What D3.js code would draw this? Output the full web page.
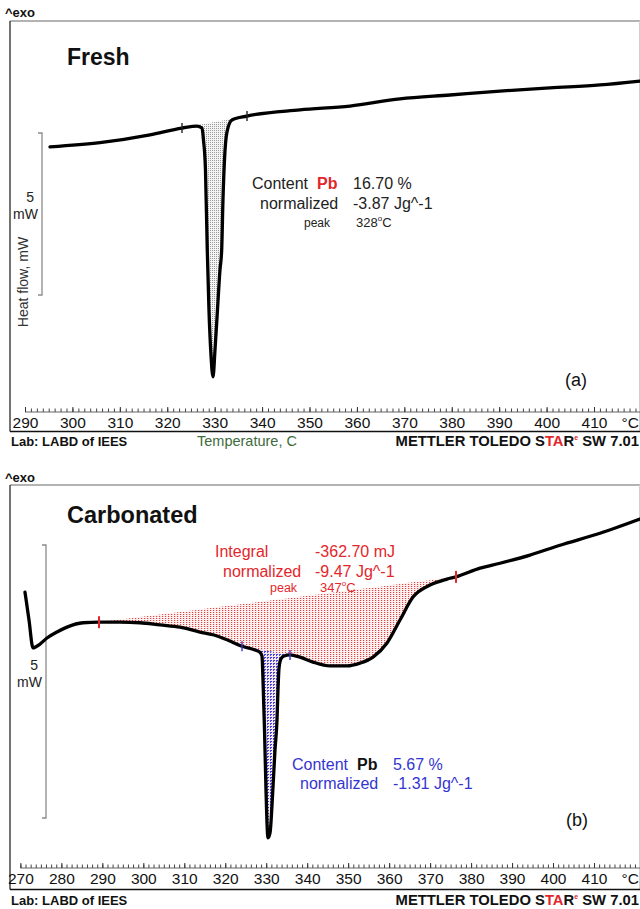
<!DOCTYPE html>
<html><head><meta charset="utf-8">
<script src="https://cdn.jsdelivr.net/npm/d3@7"></script>
<style>
html,body{margin:0;padding:0;background:#fff;}
svg{display:block;font-family:Arial,"Liberation Sans",Helvetica,sans-serif;}
</style></head><body>
<svg id="chart" width="640" height="909"></svg>
<script>
// ---------- DATA ----------
// (a) Fresh: temperature (°C) and heat flow (mW, exo up)
const freshT  = [295.27,305.82,316.36,323.11,326.27,327.33,327.64,328.06,328.44,328.80,329.22,329.65,330.07,330.59,331.12,331.48,331.75,332.07,332.60,333.65,336.82,347.99,358.54,369.08,379.63,390.17,400.72,411.26,419.69];
const freshHF = [-0.52,-0.39,-0.15,0.06,0.12,0.06,-0.31,-1.23,-3.70,-5.56,-6.94,-7.62,-6.79,-5.56,-4.32,-3.70,-2.16,-0.93,-0.06,0.31,0.43,0.62,0.74,0.96,1.08,1.20,1.30,1.39,1.51];
const freshLimits = [323.11, 336.82];

// (b) Carbonated
const carbT  = [271.12,272.10,273.08,274.78,276.49,278.93,281.37,285.28,289.18,294.31,299.19,304.07,308.95,313.83,317.01,320.67,324.09,327.26,328.48,328.97,329.21,329.58,329.94,330.43,330.92,331.65,332.14,332.63,332.87,333.12,333.61,334.34,335.80,338.24,341.42,345.57,349.72,352.89,356.06,359.48,362.65,365.82,369.97,374.12,376.32,382.18,387.06,394.38,401.70,411.46,421.23];
const carbHF = [0.51,0.00,-0.51,-0.44,-0.33,-0.22,-0.13,-0.05,-0.04,-0.04,-0.05,-0.09,-0.13,-0.22,-0.27,-0.37,-0.48,-0.55,-0.59,-0.66,-1.10,-2.01,-3.11,-3.99,-3.90,-3.06,-2.38,-1.83,-1.28,-0.88,-0.71,-0.66,-0.64,-0.68,-0.77,-0.84,-0.84,-0.79,-0.68,-0.42,0.00,0.42,0.64,0.75,0.79,0.95,1.04,1.19,1.37,1.59,1.85];
const carbRedLimits  = [289.18, 376.32];
const carbBlueLimits = [324.09, 335.80];

const topTickLabels = [290,300,310,320,330,340,350,360,370,380,390,400,410];
const botTickLabels = [270,280,290,300,310,320,330,340,350,360,370,380,390,400,410];

const freshNote = [["Content","Pb","16.70 %"],["normalized","","-3.87 Jg^-1"],["peak","","328"]];
const redNote   = [["Integral","-362.70 mJ"],["normalized","-9.47 Jg^-1"],["peak","347"]];
const blueNote  = [["Content","Pb","5.67 %"],["normalized","","-1.31 Jg^-1"]];

// ---------- SETUP ----------
const svg = d3.select('#chart');
const defs = svg.append('defs');
function pattern(id,w,h,rects,bg){
  const p = defs.append('pattern').attr('id',id).attr('patternUnits','userSpaceOnUse').attr('width',w).attr('height',h);
  if(bg) p.append('rect').attr('width',w).attr('height',h).attr('fill',bg);
  rects.forEach(r=>p.append('rect').attr('x',r[0]).attr('y',r[1]).attr('width',r[2]).attr('height',r[3]).attr('fill',r[4]));
}
pattern('grey',2,2,[[0,0,1,1,'#9a9a9a']],'#f4f4f4');
pattern('red',3,2,[[0,0,1.2,1,'#e5403e']],'#fdf0f0');
pattern('blue',3,3,[[0,0,2,1,'#3a3ad2'],[0,0,1,2,'#4a4ad8']],'#f6e6ee');

const RED='#e3262b', BLUE='#3535d0';

const topX = d3.scaleLinear().domain([290,410]).range([25,594]);
const topY = d3.scaleLinear().domain([-8.704,3.364]).range([412,21]);
const botX = d3.scaleLinear().domain([270,410]).range([20.4,594]);
const botY = d3.scaleLinear().domain([-4.542,2.473]).range([868,485]);

function txt(x,y,s,size,opts={}){
  const t = svg.append('text').attr('x',x).attr('y',y).attr('font-size',size).text(s)
    .attr('fill',opts.fill||'#111').attr('font-weight',opts.bold?'bold':'normal')
    .attr('text-anchor',opts.anchor||'start');
  return t;
}

function frame(top,bottom){
  svg.append('line').attr('x1',10).attr('x2',640).attr('y1',top).attr('y2',top).attr('stroke','#9a9a9a').attr('stroke-width',1.5);
  svg.append('line').attr('x1',10).attr('x2',10).attr('y1',top).attr('y2',bottom).attr('stroke','#444').attr('stroke-width',1.5);
  svg.append('line').attr('x1',639.5).attr('x2',639.5).attr('y1',top).attr('y2',bottom).attr('stroke','#cfcfcf').attr('stroke-width',1);
  svg.append('line').attr('x1',10).attr('x2',640).attr('y1',bottom).attr('y2',bottom).attr('stroke','#111').attr('stroke-width',1.6);
}

function xAxis(xs, yAxis, labels, start){
  const minor = d3.range(start, 420.01, 1.25);
  svg.append('line').attr('x1',xs(start)).attr('x2',640).attr('y1',yAxis).attr('y2',yAxis).attr('stroke','#666').attr('stroke-width',1);
  const g1 = svg.append('g').attr('transform',`translate(0,${yAxis})`)
    .call(d3.axisBottom(xs).tickValues(minor).tickSize(-3.5).tickFormat('').tickSizeOuter(0));
  g1.select('.domain').remove();
  g1.selectAll('line').attr('stroke','#444');
  const g2 = svg.append('g').attr('transform',`translate(0,${yAxis})`)
    .call(d3.axisBottom(xs).tickValues(labels).tickSize(-5).tickPadding(5).tickSizeOuter(0));
  g2.select('.domain').remove();
  g2.selectAll('line').attr('stroke','#333');
  g2.selectAll('text').attr('font-size',15.5).attr('fill','#111').attr('font-family','Arial,"Liberation Sans",sans-serif');
  txt(639,yAxis+16,'°C',15.5,{anchor:'end'});
}

function footer(y, withTemp){
  txt(11,y,'Lab: LABD of IEES',13,{bold:true});
  if(withTemp) txt(197,y,'Temperature, C',14.5,{fill:'#3d6b3d'});
  const t = svg.append('text').attr('x',639).attr('y',y).attr('text-anchor','end').attr('font-size',14.8).attr('font-weight','bold').attr('fill','#111');
  t.append('tspan').text('METTLER TOLEDO S');
  t.append('tspan').attr('fill',RED).text('TA');
  t.append('tspan').text('R');
  t.append('tspan').attr('fill',RED).attr('font-size',7).attr('dy',-6).text('e');
  t.append('tspan').attr('dy',6).text(' SW 7.01');
}

function fillArea(xs,ys,T,HF,lim,fill){
  const idx = T.map((t,i)=>i).filter(i=>T[i]>=lim[0]-1e-6 && T[i]<=lim[1]+1e-6);
  const i0=idx[0], i1=idx[idx.length-1];
  const base = t => HF[i0]+(HF[i1]-HF[i0])*(t-T[i0])/(T[i1]-T[i0]);
  const pts = idx.map(i=>({t:T[i],v:HF[i],b:base(T[i])}));
  svg.append('path').datum(pts)
    .attr('d',d3.area().x(d=>xs(d.t)).y0(d=>ys(d.b)).y1(d=>ys(d.v)).curve(d3.curveMonotoneX))
    .attr('fill',fill);
}
function curve(xs,ys,T,HF){
  svg.append('path').datum(T.map((t,i)=>[t,HF[i]]))
    .attr('d',d3.line().x(d=>xs(d[0])).y(d=>ys(d[1])).curve(d3.curveMonotoneX))
    .attr('fill','none').attr('stroke','#000').attr('stroke-width',3.3)
    .attr('stroke-linejoin','round').attr('stroke-linecap','round');
}
function limitTicks(xs,ys,T,HF,lim,color,h,w){
  lim.forEach(l=>{
    const i = T.findIndex(t=>Math.abs(t-l)<1e-6);
    const x = xs(l), y = ys(HF[i]);
    svg.append('line').attr('x1',x).attr('x2',x).attr('y1',y-h).attr('y2',y+h).attr('stroke',color).attr('stroke-width',w);
  });
}
function scaleBar(x,ys,hfTop,lx5,ly5,lxm,lym){
  const y1=ys(hfTop), y2=ys(hfTop-5);
  svg.append('path').attr('d',`M${x-4},${y1}H${x}V${y2}H${x-4}`).attr('fill','none').attr('stroke','#8a8a8a').attr('stroke-width',1.3);
  txt(lx5,ly5,'5',14,{anchor:'end',fill:'#222'});
  txt(lxm,lym,'mW',14,{anchor:'end',fill:'#222'});
}

// ---------- PANEL (a) ----------
txt(5,17,'^exo',13,{bold:true});
frame(21,431.5);
txt(67,65,'Fresh',23,{bold:true});
scaleBar(42,topY,-0.093,34,202,38,219);
svg.append('text').attr('transform','translate(28,282) rotate(-90)').attr('text-anchor','middle')
  .attr('font-size',14).attr('fill','#333').text('Heat flow, mW');
fillArea(topX,topY,freshT,freshHF,freshLimits,'url(#grey)');
curve(topX,topY,freshT,freshHF);
limitTicks(topX,topY,freshT,freshHF,freshLimits,'#222',5,1.4);
xAxis(topX,412,topTickLabels,290);
footer(446,true);
txt(565,386,'(a)',18,{fill:'#111'});

// annotation (a)
txt(252,189,freshNote[0][0],16,{fill:'#222'});
txt(317,189,freshNote[0][1],16,{bold:true,fill:RED});
txt(353,189,freshNote[0][2],16,{fill:'#222'});
txt(260,209,freshNote[1][0],16,{fill:'#222'});
txt(353,209,freshNote[1][2],16,{fill:'#222'});
txt(304,227,freshNote[2][0],12,{fill:'#222'});
{
  const t = txt(356,227,freshNote[2][2],13,{fill:'#222'});
  t.append('tspan').attr('font-size',8).attr('dy',-6).text('o');
  t.append('tspan').attr('dy',6).text('C');
}

// ---------- PANEL (b) ----------
txt(5,482,'^exo',13,{bold:true});
frame(485,889.5);
txt(67,523,'Carbonated',23.5,{bold:true});
scaleBar(46,botY,1.374,38,670,42,687);
fillArea(botX,botY,carbT,carbHF,carbRedLimits,'url(#red)');
fillArea(botX,botY,carbT,carbHF,carbBlueLimits,'url(#blue)');
curve(botX,botY,carbT,carbHF);
limitTicks(botX,botY,carbT,carbHF,carbRedLimits,RED,6,2);
limitTicks(botX,botY,carbT,carbHF,carbBlueLimits,BLUE,5,1.4);
xAxis(botX,868,botTickLabels,270);
footer(905,false);
txt(566,826,'(b)',18,{fill:'#111'});

// annotation (b) red
txt(215,557,redNote[0][0],16,{fill:RED});
txt(315,557,redNote[0][1],16,{fill:RED});
txt(223,577,redNote[1][0],16,{fill:RED});
txt(315,577,redNote[1][1],16,{fill:RED});
txt(270,592,redNote[2][0],12.5,{fill:RED});
{
  const t = txt(320,592,redNote[2][1],13,{fill:RED});
  t.append('tspan').attr('font-size',8).attr('dy',-6).text('o');
  t.append('tspan').attr('dy',6).text('C');
}
// annotation (b) blue
txt(292,770,blueNote[0][0],16,{fill:BLUE});
txt(357,770,blueNote[0][1],16,{bold:true,fill:'#111'});
txt(393,770,blueNote[0][2],16,{fill:BLUE});
txt(300,789,blueNote[1][0],16,{fill:BLUE});
txt(393,789,blueNote[1][2],16,{fill:BLUE});
</script>
</body></html>
